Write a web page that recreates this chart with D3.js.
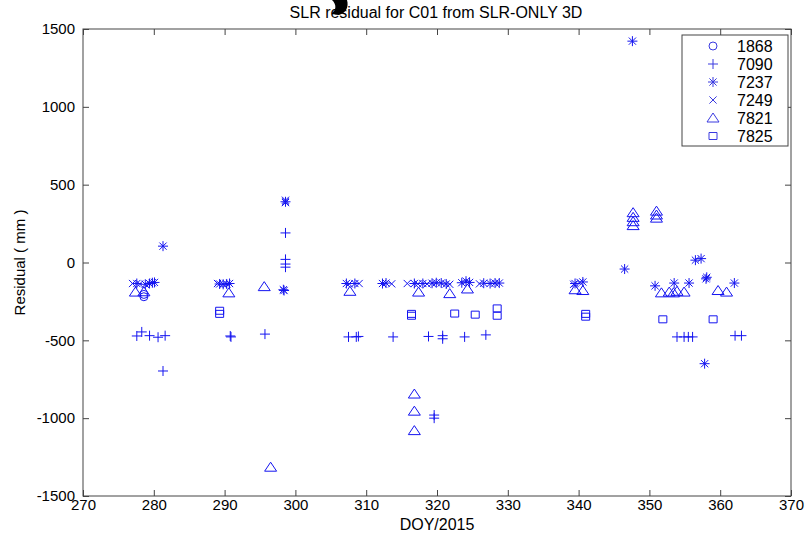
<!DOCTYPE html>
<html><head><meta charset="utf-8">
<script src="https://cdn.jsdelivr.net/npm/d3@7"></script>
<style>body{margin:0;background:#fff}svg{display:block}text{font-family:"Liberation Sans",Arial,sans-serif}</style>
</head><body><div id="chart"></div>
<script>
const titleText = "SLR residual for C01 from SLR-ONLY 3D";
const xLabel = "DOY/2015", yLabel = "Residual ( mm )";
const xTicks = [270,280,290,300,310,320,330,340,350,360,370];
const yTicks = [-1500,-1000,-500,0,500,1000,1500];
const stations = ["1868","7090","7237","7249","7821","7825"];
const symbols  = ["circle","plus","star","cross","triangle","square"];

const s1868_day = [278.6, 278.6];
const s1868_val = [-205, -220];

const s7090_day = [277.6,278.3,279.4,280.6,281.6,281.3,290.8,290.9,295.7,298.6,298.6,298.6,298.6,307.5,308.6,308.9,313.8,318.8,320.8,320.8,323.9,326.9,319.6,319.6,353.9,354.9,355.5,356.1,362.1,363.0];
const s7090_val = [-472,-446,-470,-480,-470,-697,-472,-478,-460,190,20,-10,-30,-478,-478,-475,-478,-475,-470,-490,-478,-465,-980,-1000,-478,-478,-478,-478,-470,-470];

const s7237_day = [277.6,278.8,279.4,279.8,280.1,281.3,289.3,289.8,290.3,290.7,298.3,298.4,298.6,307.2,308.4,312.3,312.8,316.8,318.0,319.3,319.9,320.6,321.3,323.5,324.1,324.6,326.6,327.5,328.2,328.8,339.5,340.6,346.5,347.6,350.8,353.5,355.6,356.5,357.3,358.0,358.1,362.0,357.8];
const s7237_val = [-135,-140,-135,-130,-128,105,-138,-140,-138,-135,-175,-180,390,-135,-135,-135,-132,-135,-135,-133,-130,-132,-138,-130,-120,-128,-133,-135,-132,-132,-135,-125,-42,1422,-150,-132,-132,15,25,-105,-95,-132,-650];

const s7249_day = [277.0,278.0,289.0,298.6,298.6,307.6,309.0,313.6,315.8,317.3,318.6,321.8,326.0,339.3,340.2];
const s7249_val = [-135,-138,-135,400,385,-137,-135,-137,-135,-137,-138,-140,-137,-140,-128];

const s7821_day = [277.4,278.6,290.6,295.6,296.5,307.7,316.8,316.8,316.8,317.4,321.8,324.3,339.5,340.6,347.7,347.7,347.7,347.7,351.0,351.0,351.0,351.7,352.8,353.4,353.9,354.9,359.7,360.9];
const s7821_val = [-190,-188,-195,-155,-1315,-185,-845,-955,-1080,-190,-200,-170,-175,-180,320,290,262,237,330,305,285,-195,-190,-195,-185,-190,-180,-190];

const s7825_day = [289.3,289.3,316.4,316.4,322.5,325.4,328.5,328.5,341.0,341.0,351.9,359.0];
const s7825_val = [-310,-330,-330,-342,-328,-335,-295,-342,-330,-348,-365,-365];

const series = [
  {name:stations[0], sym:symbols[0], day:s1868_day, val:s1868_val},
  {name:stations[1], sym:symbols[1], day:s7090_day, val:s7090_val},
  {name:stations[2], sym:symbols[2], day:s7237_day, val:s7237_val},
  {name:stations[3], sym:symbols[3], day:s7249_day, val:s7249_val},
  {name:stations[4], sym:symbols[4], day:s7821_day, val:s7821_val},
  {name:stations[5], sym:symbols[5], day:s7825_day, val:s7825_val}
];

const W = 806, H = 533;
const m = {left:83, right:806-791, top:29, bottom:533-496};
const svg = d3.select("#chart").append("svg").attr("width",W).attr("height",H);
const x = d3.scaleLinear().domain([270,370]).range([m.left, W-m.right]);
const y = d3.scaleLinear().domain([-1500,1500]).range([H-m.bottom, m.top]);
const blue = "#1414f0";

function markerPath(sym){
  switch(sym){
    case "circle": return "M4,0A4,4 0 1,1 -4,0A4,4 0 1,1 4,0Z";
    case "plus": return "M-5,0H5M0,-5V5";
    case "star": return "M-5,0H5M0,-5V5M-3.6,-3.6L3.6,3.6M-3.6,3.6L3.6,-3.6";
    case "cross": return "M-3.6,-3.6L3.6,3.6M-3.6,3.6L3.6,-3.6";
    case "triangle": return "M0,-5L6,4L-6,4Z";
    case "square": return "M-4,-3.5H4V3.5H-4Z";
  }
}
const fmt = d => String(d);

// decorative fragment at top
svg.append("path").attr("d","M332,0 L347,0 C349,7 346,13 339,15 C336,15 334,14 332,13 C336,10 337,5 332,0Z").attr("fill","#000");

// axes frame
const g = svg.append("g");
g.append("rect").attr("x",m.left).attr("y",m.top).attr("width",W-m.right-m.left).attr("height",H-m.bottom-m.top)
  .attr("fill","none").attr("stroke","#444").attr("stroke-width",1);

const xb = d3.axisBottom(x).tickValues(xTicks).tickSize(-6).tickPadding(3).tickFormat(fmt);
const xt = d3.axisTop(x).tickValues(xTicks).tickSize(-6).tickFormat("");
const yl = d3.axisLeft(y).tickValues(yTicks).tickSize(-6).tickPadding(8).tickFormat(fmt);
const yr = d3.axisRight(y).tickValues(yTicks).tickSize(-6).tickFormat("");
function style(sel){ sel.select(".domain").remove(); sel.selectAll("line").attr("stroke","#444");
  sel.selectAll("text").attr("fill","#000").style("font-size","15px").style("font-family","'Liberation Sans',Arial,sans-serif"); }
g.append("g").attr("transform",`translate(0,${H-m.bottom})`).call(xb).call(style);
g.append("g").attr("transform",`translate(0,${m.top})`).call(xt).call(style);
g.append("g").attr("transform",`translate(${m.left},0)`).call(yl).call(style);
g.append("g").attr("transform",`translate(${W-m.right},0)`).call(yr).call(style);

// data
series.forEach(s=>{
  const pts = s.day.map((d,i)=>({d, v:s.val[i]}));
  svg.append("g").selectAll("path").data(pts).join("path")
    .attr("transform",p=>`translate(${x(p.d)},${y(p.v)})`)
    .attr("d",markerPath(s.sym)).attr("fill","none").attr("stroke",blue).attr("stroke-width",1);
});

// title / labels
svg.append("text").attr("x",436).attr("y",18).attr("text-anchor","middle").style("font-size","16px").text(titleText);
svg.append("text").attr("x",437).attr("y",530).attr("text-anchor","middle").style("font-size","16px").text(xLabel);
svg.append("text").attr("transform",`translate(25,${(m.top+H-m.bottom)/2}) rotate(-90)`).attr("text-anchor","middle").style("font-size","15px").text(yLabel);

// legend
const lg = svg.append("g");
const lx0 = 682, ly0 = 35, lw = 106, lh = 111;
lg.append("rect").attr("x",lx0).attr("y",ly0).attr("width",lw).attr("height",lh).attr("fill","#fff").attr("stroke","#444");
const ly = d3.scalePoint().domain(stations).range([ly0+11, ly0+101]);
series.forEach(s=>{
  lg.append("path").attr("transform",`translate(${lx0+31},${ly(s.name)})`).attr("d",markerPath(s.sym))
    .attr("fill","none").attr("stroke","#3a3ae0").attr("stroke-width",1);
  lg.append("text").attr("x",lx0+55).attr("y",ly(s.name)+6).style("font-size","16px").text(s.name);
});
</script></body></html>
